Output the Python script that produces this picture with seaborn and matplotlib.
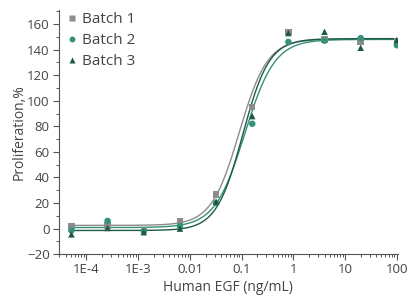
import numpy as np
import pandas as pd
import matplotlib
matplotlib.use("Agg")
import matplotlib.pyplot as plt
import matplotlib.ticker as mticker
import seaborn as sns

# EGF concentrations (ng/mL), 5-fold dilution series
conc = [100, 20, 4, 0.8, 0.16, 0.032, 0.0064, 0.00128, 0.000256, 0.0000512]

batch1 = [146.5, 146, 148, 154, 95, 26.5, 5.5, -1, 2.5, 2]
batch2 = [143.5, 149, 147, 146, 82, 20, 2, -2, 6, -1.5]
batch3 = [147.5, 141.5, 154, 153, 88, 21, 0, -2.8, 0.5, -4.5]

batches = ["Batch 1", "Batch 2", "Batch 3"]

# 4PL fit parameters
bottoms = [2.5, 0.8, -1.5]
tops = [148.2, 148.0, 148.6]
ec50s = [0.09, 0.115, 0.105]
hills = [1.6, 1.5, 1.7]

colors = {"Batch 1": "#8c8c8c", "Batch 2": "#35917a", "Batch 3": "#1d5a46"}
markers = {"Batch 1": "s", "Batch 2": "o", "Batch 3": "^"}

points = pd.DataFrame({
    "conc": conc * 3,
    "value": batch1 + batch2 + batch3,
    "batch": [b for b in batches for _ in conc],
})

xs = np.logspace(np.log10(4.5e-5), 2, 300)
curves = []
for b, bot, top, ec, h in zip(batches, bottoms, tops, ec50s, hills):
    ys = bot + (top - bot) / (1 + (ec / xs) ** h)
    curves.append(pd.DataFrame({"conc": xs, "value": ys, "batch": b}))
curves = pd.concat(curves)

sns.set_style("ticks")
plt.rcParams["font.family"] = ["Open Sans", "DejaVu Sans"]

fig = plt.figure(figsize=(4.09, 3.04), dpi=100)
ax = fig.add_axes([0.1435, 0.164, 0.83, 0.803])

sns.lineplot(data=curves, x="conc", y="value", hue="batch", palette=colors,
             linewidth=1.0, ax=ax, legend=False, zorder=2)
sns.scatterplot(data=points, x="conc", y="value", hue="batch", style="batch",
                palette=colors, markers=markers, s=22, edgecolor="none",
                ax=ax, zorder=3)

ax.set_xscale("log")
ax.set_xlim(2.9e-5, 106)
ax.set_ylim(-20, 171)

ax.set_xticks([1e-4, 1e-3, 1e-2, 1e-1, 1, 10, 100])
ax.set_xticklabels(["1E-4", "1E-3", "0.01", "0.1", "1", "10", "100"])
ax.xaxis.set_minor_locator(mticker.LogLocator(base=10, subs=np.arange(2, 10), numticks=20))
ax.xaxis.set_minor_formatter(mticker.NullFormatter())
ax.set_yticks(np.arange(-20, 161, 20))
ax.yaxis.set_minor_locator(mticker.MultipleLocator(10))

txt = "#444444"
ax.tick_params(which="major", length=4, width=0.8, color="#555555",
               labelsize=9.5, labelcolor=txt, pad=2.5)
ax.tick_params(which="minor", length=2.5, width=0.7, color="#555555")
for side in ["left", "bottom"]:
    ax.spines[side].set_color("#555555")
    ax.spines[side].set_linewidth(0.8)
sns.despine(ax=ax)

ax.set_xlabel("Human EGF (ng/mL)", fontsize=10, color=txt, labelpad=3)
ax.set_ylabel("Proliferation,%", fontsize=10, color=txt, labelpad=0)

leg = ax.legend(loc="upper left", bbox_to_anchor=(0.0, 1.03), frameon=False,
                fontsize=11, handlelength=0.6, handletextpad=0.3,
                labelspacing=0.4, borderaxespad=0.2, markerscale=0.9)
for t in leg.get_texts():
    t.set_color(txt)

fig.savefig("out.png", dpi=100)
